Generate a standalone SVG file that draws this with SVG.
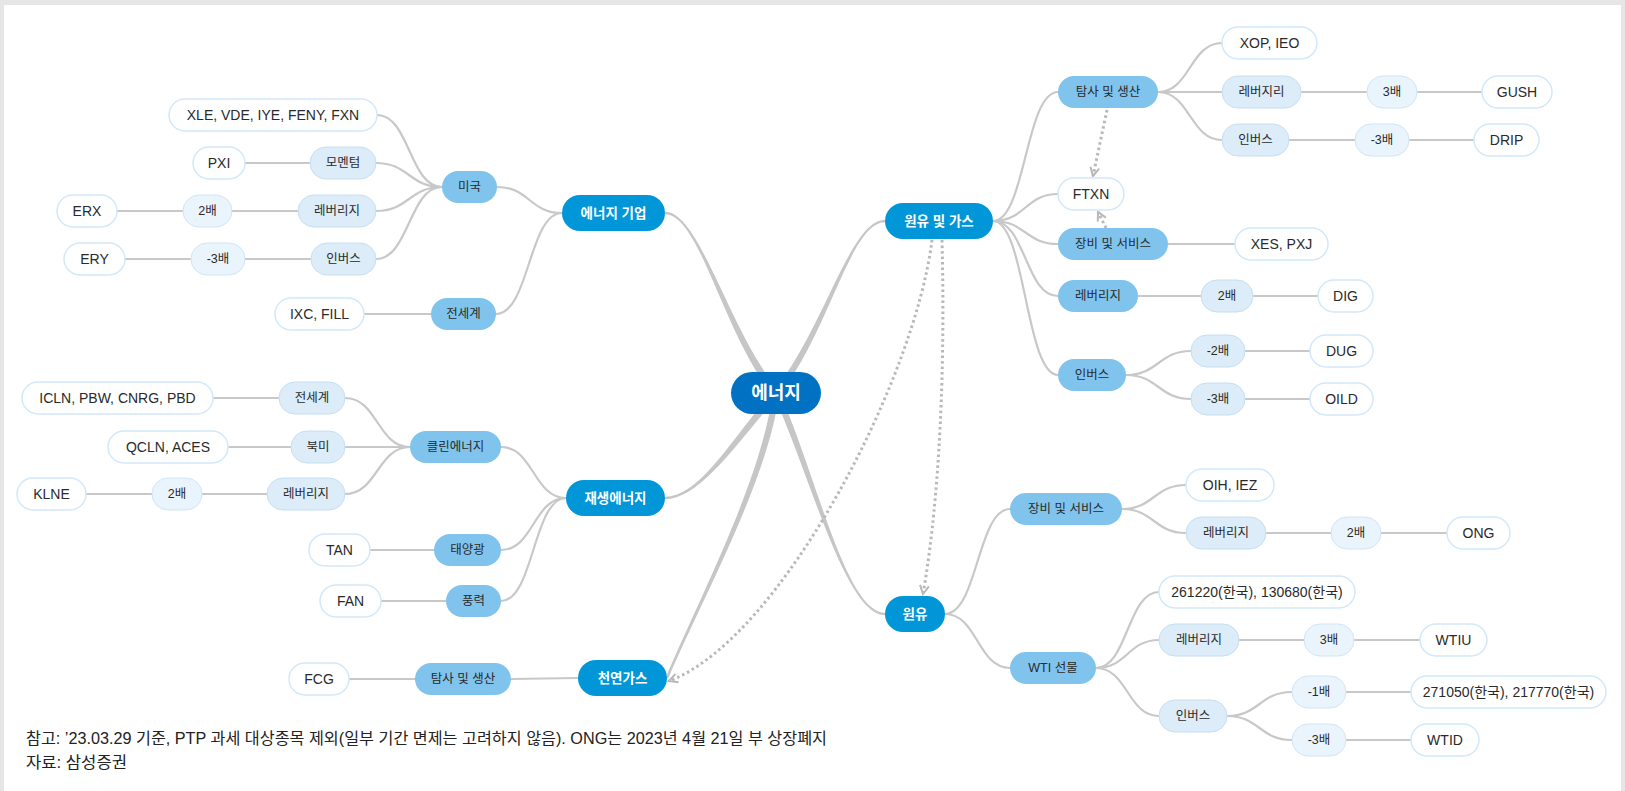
<svg xmlns="http://www.w3.org/2000/svg" width="1625" height="791" viewBox="0 0 1625 791">
<defs>
<style>
.bg{fill:#e6e6e6}
.page{fill:#ffffff}
.c{fill:none;stroke:#c8c8c8;stroke-width:2.2;stroke-linecap:round}
.br{fill:#c6c6c6}
.dot{fill:none;stroke:#b8b8b8;stroke-width:3;stroke-dasharray:2.5 3}
.n0{fill:#0071c3}
.n1{fill:#0096d8}
.n2{fill:#80c4ee}
.n3{fill:#dcecf8;stroke:#c5def1;stroke-width:1}
.n4{fill:#eaf4fc;stroke:#cfe5f6;stroke-width:1}
.lf{fill:#ffffff;stroke:#d2e8fa;stroke-width:1.5}
text{font-family:"Liberation Sans","Noto Sans CJK KR",sans-serif;text-anchor:middle;dominant-baseline:central}
.t0{fill:#ffffff;font-size:18px;font-weight:bold}
.t1{fill:#ffffff;font-size:13.5px;font-weight:bold}
.tk{fill:#2a2a2a;font-size:12.5px}
.tl{fill:#2a2a2a;font-size:14px}
.fn{fill:#222;font-size:16px;text-anchor:start;dominant-baseline:auto}
</style>
<marker id="ah" viewBox="0 0 12 12" refX="10" refY="6" markerWidth="12" markerHeight="12" markerUnits="userSpaceOnUse" orient="auto">
<path d="M1.5,1.5 L10,6 L1.5,10.5" fill="none" stroke="#b8b8b8" stroke-width="2"/>
</marker>
</defs>
<rect class="bg" x="0" y="0" width="1625" height="791"/>
<rect class="page" x="4" y="5" width="1617" height="786"/>

<g id="connectors">
<!-- main tapered branches -->
<path class="br" d="M 773.3,395.2 C 723.3,335.2 700,214.2 665,214.2 L 665,211.8 C 700,211.8 728.7,330.8 778.7,390.8 Z"/>
<path class="br" d="M 778.6,395.3 C 737.6,442.3 700,499.2 665,499.2 L 665,496.8 C 700,496.8 732.4,437.7 773.4,390.7 Z"/>
<path class="br" d="M 779.2,393.4 C 768.2,480.4 701.2,600.5 668.2,678.5 L 665.8,677.5 C 698.8,599.5 761.8,479.6 772.8,392.6 Z"/>
<path class="br" d="M 773.5,391 C 823.5,331 850,219.7 885,219.7 L 885,222.3 C 850,222.3 828.5,335 778.5,395 Z"/>
<path class="br" d="M 778.9,391.7 C 814.9,468.7 845,612.7 885,612.7 L 885,615.3 C 845,615.3 809.1,471.3 773.1,394.3 Z"/>
<!-- left curves -->
<path class="c" d="M562,213 C529.5,213 529.5,187 497,187"/>
<path class="c" d="M562,213 C529,213 529,314 496,314"/>
<path class="c" d="M442,187 C409.5,187 409.5,115 377,115"/>
<path class="c" d="M442,187 C409,187 409,163 376,163"/>
<path class="c" d="M442,187 C409,187 409,211 376,211"/>
<path class="c" d="M442,187 C409,187 409,259 376,259"/>
<path class="c" d="M566,498 C533.5,498 533.5,447 501,447"/>
<path class="c" d="M566,498 C533.5,498 533.5,550 501,550"/>
<path class="c" d="M566,498 C533.5,498 533.5,601 501,601"/>
<path class="c" d="M410,447 C377.5,447 377.5,398 345,398"/>
<path class="c" d="M410,447 L345,447"/>
<path class="c" d="M410,447 C377.5,447 377.5,494 345,494"/>
<path class="c" d="M578,678 L511,679"/>
<!-- left straight -->
<path class="c" d="M310,163 L245,163"/>
<path class="c" d="M298,211 L232,211 M183,211 L117,211"/>
<path class="c" d="M311,259 L245,259 M191,259 L125,259"/>
<path class="c" d="M431,314 L364,314"/>
<path class="c" d="M279,398 L213,398"/>
<path class="c" d="M291,447 L228,447"/>
<path class="c" d="M267,494 L202,494 M152,494 L86,494"/>
<path class="c" d="M434,550 L370,550"/>
<path class="c" d="M446,601 L381,601"/>
<path class="c" d="M415,679 L349,679"/>
<!-- right curves -->
<path class="c" d="M993,221 C1025.5,221 1025.5,92 1058,92"/>
<path class="c" d="M993,221 C1025.5,221 1025.5,194 1058,194"/>
<path class="c" d="M993,221 C1025.5,221 1025.5,244 1058,244"/>
<path class="c" d="M993,221 C1025.5,221 1025.5,296 1058,296"/>
<path class="c" d="M993,221 C1025.5,221 1025.5,375 1058,375"/>
<path class="c" d="M1158,92 C1190,92 1190,43 1222,43"/>
<path class="c" d="M1158,92 L1222,92"/>
<path class="c" d="M1158,92 C1190,92 1190,140 1222,140"/>
<path class="c" d="M1126,375 C1158.5,375 1158.5,351 1191,351"/>
<path class="c" d="M1126,375 C1158.5,375 1158.5,399 1191,399"/>
<path class="c" d="M945,614 C977.5,614 977.5,509 1010,509"/>
<path class="c" d="M945,614 C977.5,614 977.5,668 1010,668"/>
<path class="c" d="M1122,509 C1154,509 1154,485 1186,485"/>
<path class="c" d="M1122,509 C1154,509 1154,533 1186,533"/>
<path class="c" d="M1096,668 C1127.5,668 1127.5,592 1159,592"/>
<path class="c" d="M1096,668 C1127.5,668 1127.5,640 1159,640"/>
<path class="c" d="M1096,668 C1127.5,668 1127.5,716 1159,716"/>
<path class="c" d="M1227,716 C1259.5,716 1259.5,692 1292,692"/>
<path class="c" d="M1227,716 C1259.5,716 1259.5,740 1292,740"/>
<!-- right straight -->
<path class="c" d="M1301,92 L1367,92 M1417,92 L1482,92"/>
<path class="c" d="M1289,140 L1355,140 M1409,140 L1474,140"/>
<path class="c" d="M1168,244 L1235,244"/>
<path class="c" d="M1138,296 L1201,296 M1253,296 L1318,296"/>
<path class="c" d="M1245,351 L1310,351"/>
<path class="c" d="M1245,399 L1310,399"/>
<path class="c" d="M1266,533 L1331,533 M1381,533 L1447,533"/>
<path class="c" d="M1239,640 L1304,640 M1354,640 L1420,640"/>
<path class="c" d="M1346,692 L1411,692"/>
<path class="c" d="M1346,740 L1411,740"/>
<!-- dotted relations -->
<path class="dot" d="M1107,110 L1093,176" marker-end="url(#ah)"/>
<path class="dot" d="M1106,228 L1098,212" marker-end="url(#ah)"/>
<path class="dot" d="M942,240 C946,400 936,520 923,594" marker-end="url(#ah)"/>
<path class="dot" d="M932,240 C915,380 780,640 669,681" marker-end="url(#ah)"/>
</g>

<g id="n-energy"><rect class="n0" x="731" y="372" width="90" height="42" rx="21"/><text class="t0" x="776" y="393">에너지</text></g>

<g id="n-energy-corp"><rect class="n1" x="562" y="195" width="103" height="36" rx="18"/><text class="t1" x="613.5" y="213">에너지 기업</text></g>
<g id="n-renewable"><rect class="n1" x="566" y="480" width="99" height="36" rx="18"/><text class="t1" x="615.5" y="498">재생에너지</text></g>
<g id="n-natgas"><rect class="n1" x="578" y="660" width="89" height="36" rx="18"/><text class="t1" x="622.5" y="678">천연가스</text></g>
<g id="n-oilgas"><rect class="n1" x="885" y="203" width="108" height="36" rx="18"/><text class="t1" x="939" y="221">원유 및 가스</text></g>
<g id="n-oil"><rect class="n1" x="885" y="596" width="60" height="36" rx="18"/><text class="t1" x="915" y="614">원유</text></g>

<g id="n-us"><rect class="n2" x="442" y="171" width="55" height="32" rx="16"/><text class="tk" x="469.5" y="187">미국</text></g>
<g id="n-global1"><rect class="n2" x="431" y="298" width="65" height="32" rx="16"/><text class="tk" x="463.5" y="314">전세계</text></g>
<g id="n-clean"><rect class="n2" x="410" y="431" width="91" height="32" rx="16"/><text class="tk" x="455.5" y="447">클린에너지</text></g>
<g id="n-solar"><rect class="n2" x="434" y="534" width="67" height="32" rx="16"/><text class="tk" x="467.5" y="550">태양광</text></g>
<g id="n-wind"><rect class="n2" x="446" y="585" width="55" height="32" rx="16"/><text class="tk" x="473.5" y="601">풍력</text></g>
<g id="n-gas-ep"><rect class="n2" x="415" y="663" width="96" height="32" rx="16"/><text class="tk" x="463" y="679">탐사 및 생산</text></g>
<g id="n-og-ep"><rect class="n2" x="1058" y="76" width="100" height="32" rx="16"/><text class="tk" x="1108" y="92">탐사 및 생산</text></g>
<g id="n-og-svc"><rect class="n2" x="1058" y="228" width="110" height="32" rx="16"/><text class="tk" x="1113" y="244">장비 및 서비스</text></g>
<g id="n-og-lev"><rect class="n2" x="1058" y="280" width="80" height="32" rx="16"/><text class="tk" x="1098" y="296">레버리지</text></g>
<g id="n-og-inv"><rect class="n2" x="1058" y="359" width="68" height="32" rx="16"/><text class="tk" x="1092" y="375">인버스</text></g>
<g id="n-oil-svc"><rect class="n2" x="1010" y="493" width="112" height="32" rx="16"/><text class="tk" x="1066" y="509">장비 및 서비스</text></g>
<g id="n-wti"><rect class="n2" x="1010" y="652" width="86" height="32" rx="16"/><text class="tk" x="1053" y="668">WTI 선물</text></g>

<g id="n-momentum"><rect class="n3" x="310" y="147" width="66" height="32" rx="16"/><text class="tk" x="343" y="163">모멘텀</text></g>
<g id="n-us-lev"><rect class="n3" x="298" y="195" width="78" height="32" rx="16"/><text class="tk" x="337" y="211">레버리지</text></g>
<g id="n-us-inv"><rect class="n3" x="311" y="243" width="65" height="32" rx="16"/><text class="tk" x="343.5" y="259">인버스</text></g>
<g id="n-clean-global"><rect class="n3" x="279" y="382" width="66" height="32" rx="16"/><text class="tk" x="312" y="398">전세계</text></g>
<g id="n-clean-na"><rect class="n3" x="291" y="431" width="54" height="32" rx="16"/><text class="tk" x="318" y="447">북미</text></g>
<g id="n-clean-lev"><rect class="n3" x="267" y="478" width="78" height="32" rx="16"/><text class="tk" x="306" y="494">레버리지</text></g>
<g id="n-ep-lev"><rect class="n3" x="1222" y="76" width="79" height="32" rx="16"/><text class="tk" x="1261.5" y="92">레버지리</text></g>
<g id="n-ep-inv"><rect class="n3" x="1222" y="124" width="67" height="32" rx="16"/><text class="tk" x="1255.5" y="140">인버스</text></g>
<g id="n-og-2x"><rect class="n3" x="1201" y="280" width="52" height="32" rx="16"/><text class="tk" x="1227" y="296">2배</text></g>
<g id="n-og-m2x"><rect class="n3" x="1191" y="335" width="54" height="32" rx="16"/><text class="tk" x="1218" y="351">-2배</text></g>
<g id="n-og-m3x"><rect class="n3" x="1191" y="383" width="54" height="32" rx="16"/><text class="tk" x="1218" y="399">-3배</text></g>
<g id="n-svc-lev"><rect class="n3" x="1186" y="517" width="80" height="32" rx="16"/><text class="tk" x="1226" y="533">레버리지</text></g>
<g id="n-wti-lev"><rect class="n3" x="1159" y="624" width="80" height="32" rx="16"/><text class="tk" x="1199" y="640">레버리지</text></g>
<g id="n-wti-inv"><rect class="n3" x="1159" y="700" width="68" height="32" rx="16"/><text class="tk" x="1193" y="716">인버스</text></g>

<g id="n-us-2x"><rect class="n4" x="183" y="195" width="49" height="32" rx="16"/><text class="tk" x="207.5" y="211">2배</text></g>
<g id="n-us-m3x"><rect class="n4" x="191" y="243" width="54" height="32" rx="16"/><text class="tk" x="218" y="259">-3배</text></g>
<g id="n-clean-2x"><rect class="n4" x="152" y="478" width="50" height="32" rx="16"/><text class="tk" x="177" y="494">2배</text></g>
<g id="n-ep-3x"><rect class="n4" x="1367" y="76" width="50" height="32" rx="16"/><text class="tk" x="1392" y="92">3배</text></g>
<g id="n-ep-m3x"><rect class="n4" x="1355" y="124" width="54" height="32" rx="16"/><text class="tk" x="1382" y="140">-3배</text></g>
<g id="n-svc-2x"><rect class="n4" x="1331" y="517" width="50" height="32" rx="16"/><text class="tk" x="1356" y="533">2배</text></g>
<g id="n-wti-3x"><rect class="n4" x="1304" y="624" width="50" height="32" rx="16"/><text class="tk" x="1329" y="640">3배</text></g>
<g id="n-wti-m1x"><rect class="n4" x="1292" y="676" width="54" height="32" rx="16"/><text class="tk" x="1319" y="692">-1배</text></g>
<g id="n-wti-m3x"><rect class="n4" x="1292" y="724" width="54" height="32" rx="16"/><text class="tk" x="1319" y="740">-3배</text></g>

<g id="n-xle"><rect class="lf" x="169" y="99" width="208" height="32" rx="16"/><text class="tl" x="273" y="115">XLE, VDE, IYE, FENY, FXN</text></g>
<g id="n-pxi"><rect class="lf" x="193" y="147" width="52" height="32" rx="16"/><text class="tl" x="219" y="163">PXI</text></g>
<g id="n-erx"><rect class="lf" x="57" y="195" width="60" height="32" rx="16"/><text class="tl" x="87" y="211">ERX</text></g>
<g id="n-ery"><rect class="lf" x="64" y="243" width="61" height="32" rx="16"/><text class="tl" x="94.5" y="259">ERY</text></g>
<g id="n-ixc"><rect class="lf" x="275" y="298" width="89" height="32" rx="16"/><text class="tl" x="319.5" y="314">IXC, FILL</text></g>
<g id="n-icln"><rect class="lf" x="22" y="382" width="191" height="32" rx="16"/><text class="tl" x="117.5" y="398">ICLN, PBW, CNRG, PBD</text></g>
<g id="n-qcln"><rect class="lf" x="108" y="431" width="120" height="32" rx="16"/><text class="tl" x="168" y="447">QCLN, ACES</text></g>
<g id="n-klne"><rect class="lf" x="17" y="478" width="69" height="32" rx="16"/><text class="tl" x="51.5" y="494">KLNE</text></g>
<g id="n-tan"><rect class="lf" x="309" y="534" width="61" height="32" rx="16"/><text class="tl" x="339.5" y="550">TAN</text></g>
<g id="n-fan"><rect class="lf" x="320" y="585" width="61" height="32" rx="16"/><text class="tl" x="350.5" y="601">FAN</text></g>
<g id="n-fcg"><rect class="lf" x="289" y="663" width="60" height="32" rx="16"/><text class="tl" x="319" y="679">FCG</text></g>
<g id="n-xop"><rect class="lf" x="1222" y="27" width="95" height="32" rx="16"/><text class="tl" x="1269.5" y="43">XOP, IEO</text></g>
<g id="n-gush"><rect class="lf" x="1482" y="76" width="70" height="32" rx="16"/><text class="tl" x="1517" y="92">GUSH</text></g>
<g id="n-drip"><rect class="lf" x="1474" y="124" width="65" height="32" rx="16"/><text class="tl" x="1506.5" y="140">DRIP</text></g>
<g id="n-ftxn"><rect class="lf" x="1058" y="178" width="66" height="32" rx="16"/><text class="tl" x="1091" y="194">FTXN</text></g>
<g id="n-xes"><rect class="lf" x="1235" y="228" width="93" height="32" rx="16"/><text class="tl" x="1281.5" y="244">XES, PXJ</text></g>
<g id="n-dig"><rect class="lf" x="1318" y="280" width="55" height="32" rx="16"/><text class="tl" x="1345.5" y="296">DIG</text></g>
<g id="n-dug"><rect class="lf" x="1310" y="335" width="63" height="32" rx="16"/><text class="tl" x="1341.5" y="351">DUG</text></g>
<g id="n-oild"><rect class="lf" x="1310" y="383" width="63" height="32" rx="16"/><text class="tl" x="1341.5" y="399">OILD</text></g>
<g id="n-oih"><rect class="lf" x="1186" y="469" width="88" height="32" rx="16"/><text class="tl" x="1230" y="485">OIH, IEZ</text></g>
<g id="n-ong"><rect class="lf" x="1447" y="517" width="63" height="32" rx="16"/><text class="tl" x="1478.5" y="533">ONG</text></g>
<g id="n-261220"><rect class="lf" x="1159" y="576" width="196" height="32" rx="16"/><text class="tl" x="1257" y="592">261220(한국), 130680(한국)</text></g>
<g id="n-wtiu"><rect class="lf" x="1420" y="624" width="67" height="32" rx="16"/><text class="tl" x="1453.5" y="640">WTIU</text></g>
<g id="n-271050"><rect class="lf" x="1411" y="676" width="195" height="32" rx="16"/><text class="tl" x="1508.5" y="692">271050(한국), 217770(한국)</text></g>
<g id="n-wtid"><rect class="lf" x="1411" y="724" width="68" height="32" rx="16"/><text class="tl" x="1445" y="740">WTID</text></g>

<g id="footnote">
<text class="fn" x="26" y="744" textLength="801" lengthAdjust="spacingAndGlyphs">참고: ’23.03.29 기준, PTP 과세 대상종목 제외(일부 기간 면제는 고려하지 않음). ONG는 2023년 4월 21일 부 상장폐지</text>
<text class="fn" x="26" y="768" textLength="101" lengthAdjust="spacingAndGlyphs">자료: 삼성증권</text>
</g>
</svg>
